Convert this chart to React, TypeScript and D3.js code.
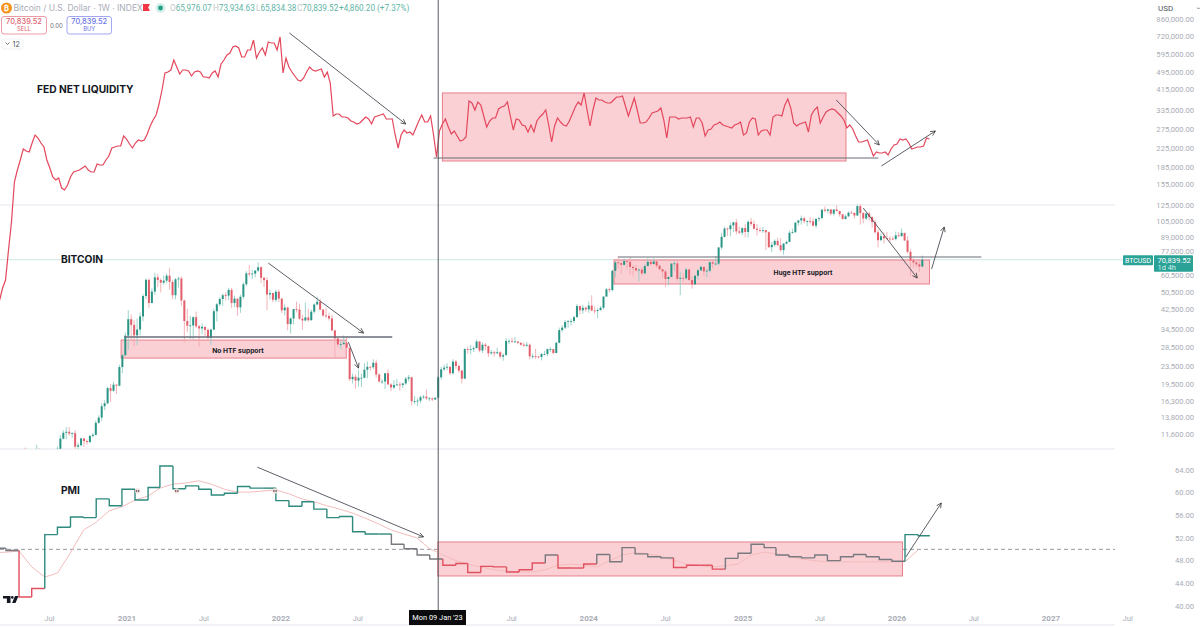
import React, { useEffect, useRef } from "react";
import * as d3 from "d3";

// weekly BTC candles, read against the log price axis (open = previous close)
const firstOpen = 8900;
const lastBar = new Date(2026, 2, 2);
const btcHigh = [
  // 2020 (from May)
  10067, 9950, 9840, 9600, 10380, 10000, 9590, 9780, 9310, 9480, 9350, 10190, 11450, 12050, 12480, 12470, 11800, 12070, 10580, 11180, 11100, 10950, 11500, 11720, 13350, 14100, 15970, 16480, 18950, 19500, 19920, 19400, 23800, 26800, 33300,
  // 2021
  41950, 40100, 37850, 38500, 41000, 49700, 58300, 58300, 52600, 61800, 61200, 58400, 60100, 61300, 64900, 57500, 58500, 59500, 59500, 46700, 42600, 39500, 39400, 41300, 36000, 36600, 35100, 34700, 34600, 42600, 45300, 48000, 49800, 50500, 52900, 52900, 48800, 47300, 49200, 56000, 62900, 67000, 63700, 63500, 69000, 66400, 59400, 59100, 51900, 50200, 51900, 52000,
  // 2022
  47500, 44500, 43500, 38900, 42500, 45800, 44800, 40000, 45400, 42600, 42300, 45000, 48200, 47200, 42400, 42900, 40800, 40000, 34200, 31400, 30500, 32300, 31700, 28000, 21700, 21500, 22500, 21700, 24200, 24600, 23500, 25200, 25100, 21800, 20500, 21800, 22700, 19700, 20300, 20500, 19900, 19700, 21000, 21400, 21000, 17200, 16800, 17300, 17400, 18400, 17000, 16900,
  // 2023
  17000, 21300, 23300, 23800, 24200, 23400, 25200, 25000, 23900, 22600, 28300, 28800, 29200, 28800, 30900, 30400, 30000, 29800, 29000, 27700, 27500, 28400, 27400, 26800, 31400, 31000, 31500, 31800, 30400, 30000, 30000, 30200, 29700, 26800, 28100, 26100, 26900, 27500, 28100, 28600, 28000, 30300, 35000, 35900, 37900, 37900, 38400, 39400, 44700, 44000, 44300, 43600,
  // 2024
  45900, 49000, 43600, 42800, 43900, 48500, 52800, 53000, 64000, 69900, 73800, 68900, 71700, 71300, 72700, 66900, 67200, 64700, 65500, 67700, 71900, 70200, 71900, 70500, 66900, 62800, 63800, 59400, 68400, 70000, 70000, 62700, 61800, 65000, 64500, 59800, 60600, 64100, 66500, 65600, 64500, 69400, 70000, 73600, 80800, 93500, 99800, 98700, 104000, 105000, 108300, 99800, 99000,
  // 2025
  102700, 106400, 109100, 106400, 102500, 98800, 99500, 96500, 95000, 85300, 87400, 88800, 88500, 84000, 86500, 95700, 97800, 104300, 106700, 112000, 110700, 106800, 110400, 108900, 108500, 110500, 119500, 123200, 120200, 119800, 119300, 124500, 117600, 113500, 113300, 116800, 117900, 113400, 125700, 126200, 115900, 114800, 116400, 110500, 107500, 96600, 93000, 94100, 94600, 90400, 90400, 94800,
  // 2026
  94400, 97900, 93000, 90400, 79300, 72000, 70900, 70000, 73934.63,
];
const btcLow = [
  8560, 8200, 8800, 8640, 9250, 9200, 9000, 8850, 8900, 9020, 9020, 9140, 9900, 10960, 11000, 11400, 11150, 9900, 9860, 10200, 10130, 10370, 10530, 11200, 11400, 12900, 13250, 14850, 15800, 16200, 18000, 17600, 19000, 21800, 26000,
  27700, 30400, 28800, 29200, 32300, 37400, 47100, 43000, 44900, 49200, 53300, 50400, 54700, 55400, 52000, 47000, 47000, 53000, 43900, 30000, 33400, 31100, 31000, 34800, 28800, 32700, 32100, 31000, 29300, 34000, 37300, 43700, 43900, 46400, 46500, 42900, 43400, 39600, 40800, 47100, 53900, 59500, 58000, 59000, 62300, 55600, 53300, 42000, 46900, 45500, 45600, 45700,
  40700, 39700, 34000, 32900, 36200, 41000, 38000, 34300, 37400, 37200, 37600, 40500, 44200, 41900, 39200, 38600, 37700, 33700, 25400, 28700, 28000, 29300, 26500, 20100, 19600, 18600, 19000, 18900, 20700, 20700, 22400, 22700, 20800, 19800, 19500, 18500, 19400, 18100, 18500, 19100, 18200, 18700, 19300, 20000, 15600, 15800, 15500, 16000, 16700, 16500, 16300, 16300,
  16500, 17100, 20400, 22300, 22500, 21400, 21500, 22800, 21900, 19600, 20600, 26700, 26500, 27200, 28200, 27100, 26900, 27700, 25800, 26400, 25900, 26600, 25400, 24800, 26300, 29500, 29900, 29900, 29500, 29000, 28700, 28700, 25200, 25300, 25300, 25400, 24900, 26400, 26000, 27200, 26500, 26800, 29700, 33400, 34500, 35000, 35700, 36700, 39000, 40200, 40500, 41300,
  40800, 41500, 40300, 38500, 41800, 42300, 48300, 50600, 50900, 59000, 64500, 60800, 66400, 64500, 60600, 59600, 62400, 56500, 60200, 60700, 66600, 66600, 67600, 65000, 63400, 58500, 53500, 54300, 59000, 63400, 57100, 49000, 56100, 57700, 57200, 52500, 54600, 57500, 62700, 59800, 58900, 62000, 65000, 66800, 66800, 78800, 89400, 90800, 90500, 94300, 92200, 92500, 91500,
  89200, 89300, 100800, 97000, 91200, 94000, 93400, 78200, 80000, 76700, 81100, 81600, 77000, 74500, 83000, 85000, 92800, 93400, 100800, 102000, 103100, 100400, 102700, 100000, 98200, 105200, 107500, 115700, 114700, 112000, 111900, 116800, 110700, 107300, 107300, 110600, 114500, 108600, 111600, 102000, 103500, 106700, 106300, 98900, 93000, 80600, 85800, 83800, 87500, 84400, 86500, 86600,
  89300, 90000, 86000, 75700, 60000, 65100, 65500, 62500, 65834.38,
];
const btcClose = [
  8722, 9680, 8900, 9450, 9660, 9340, 9290, 9000, 9050, 9250, 9170, 9950, 11050, 11750, 11870, 11650, 11700, 10170, 10320, 11080, 10780, 10670, 11370, 11500, 13030, 13760, 15480, 15960, 18680, 18180, 19360, 19170, 23240, 26270, 32200,
  38200, 36000, 32300, 34300, 39300, 48600, 57500, 45200, 50900, 59000, 57400, 55800, 57000, 60000, 56200, 49000, 57800, 58300, 46400, 37500, 35700, 35800, 39000, 35500, 34700, 35300, 34200, 31500, 34300, 41500, 44600, 47100, 49000, 48800, 51800, 45200, 47300, 43200, 48200, 54900, 61500, 60900, 61300, 63300, 65500, 58700, 57300, 49400, 50100, 46700, 50800, 47300,
  41900, 43100, 36300, 38500, 42400, 42200, 38400, 37700, 38900, 37800, 41300, 44500, 45800, 42200, 39700, 39500, 38500, 34000, 31300, 29400, 29500, 29900, 28400, 20500, 21000, 20200, 20800, 20800, 22600, 23300, 23200, 24300, 21500, 20000, 20000, 21800, 19400, 18800, 19300, 19400, 19300, 19600, 20600, 20900, 16300, 16300, 16400, 17000, 17100, 16800, 16800, 16600,
  16900, 20900, 22700, 23100, 23300, 21800, 24600, 23500, 22400, 20600, 28000, 27900, 28000, 28300, 30300, 27600, 29300, 28900, 26800, 27100, 26800, 27100, 25900, 26300, 30500, 30500, 30300, 30300, 29900, 29300, 29000, 29300, 26000, 26000, 25900, 25800, 26600, 26600, 28000, 28000, 26900, 29900, 34100, 35000, 37100, 37400, 37500, 39000, 43800, 41900, 43000, 42300,
  44000, 41800, 41600, 42000, 43000, 48300, 52100, 51700, 63100, 68900, 68400, 67200, 69900, 69300, 65700, 64900, 63400, 63900, 61500, 66300, 69300, 67700, 69600, 66600, 64200, 62700, 58000, 59200, 68000, 68200, 58100, 58700, 58400, 64000, 57300, 54800, 60000, 63500, 65800, 62800, 63200, 69000, 68000, 68000, 80400, 89800, 97900, 97300, 101200, 104400, 95100, 93800, 98400,
  94500, 105000, 102700, 97700, 96500, 96100, 96200, 94200, 80700, 82600, 86100, 82400, 78300, 83700, 85200, 93700, 94300, 104100, 106500, 109000, 105700, 105700, 105500, 100900, 108300, 109200, 119100, 117800, 119400, 114200, 119300, 117500, 113500, 108200, 111100, 115400, 115300, 112100, 123500, 115000, 108600, 114500, 110500, 104700, 94200, 86800, 90400, 88500, 88200, 88100, 87800, 91200,
  90500, 93600, 86500, 76900, 70300, 68800, 67500, 65976.07, 70839.52,
];

// Fed net liquidity overlay, weekly, in its own hidden index units
const liquidityStart = new Date(2020, 2, 5);
const liquidity = [
  60, 180, 260, 560, 840, 1240, 1360, 1460, 1570, 1550, 1540, 1630, 1710, 1680, 1630, 1590, 1460, 1380, 1290, 1260, 1280, 1180, 1160, 1210, 1290, 1340, 1350, 1360, 1380, 1400, 1360, 1340, 1340, 1420, 1410, 1410, 1460, 1500, 1580, 1590,
  1600, 1600, 1700, 1670, 1620, 1580, 1630, 1660, 1650, 1660, 1720, 1800, 1860, 1910, 2020, 2160, 2330, 2340, 2360, 2460, 2390, 2320, 2360, 2360, 2350, 2300, 2340, 2350, 2340, 2290, 2290, 2280, 2330, 2350, 2290, 2420, 2460, 2510, 2530, 2590,
  2600, 2580, 2490, 2490, 2560, 2560, 2660, 2480, 2540, 2580, 2510, 2640, 2630, 2630, 2560, 2690, 2330, 2480, 2390, 2340, 2300, 2260, 2250, 2280, 2340, 2390, 2360, 2350, 2360, 2370, 2290, 2340, 2230, 1900, 1920, 1920, 1890, 1890, 1880, 1850,
  1840, 1820, 1830, 1860, 1890, 1870, 1820, 1890, 1900, 1910, 1920, 1870, 1870, 1870, 1710, 1580, 1710, 1760, 1730, 1740, 1710, 1780, 1850, 1910, 1840, 1840, 1900, 1710, 1490, 1750, 1820, 1870, 1790, 1720, 1750, 1700, 1650, 1660, 1690, 2050,
  2030, 1960, 2040, 2010, 1900, 1790, 1850, 1880, 1880, 1970, 1990, 2000, 2040, 1900, 1760, 1870, 1860, 1810, 1800, 1740, 1810, 1740, 1850, 1890, 1920, 1960, 1810, 1640, 1800, 1880, 1840, 1810, 1800, 1850, 1920, 1990, 2040, 2010, 2130, 1960,
  1800, 1960, 2080, 2060, 2060, 2040, 2030, 2030, 2060, 2090, 2090, 2100, 2000, 1900, 1990, 2080, 1960, 1830, 1830, 1840, 1880, 1930, 1940, 1950, 1980, 1860, 1680, 1890, 1890, 1890, 1870, 1880, 1880, 1880, 1890, 1790, 1880, 1880, 1830, 1700,
  1760, 1770, 1810, 1820, 1840, 1810, 1800, 1790, 1780, 1810, 1820, 1840, 1710, 1730, 1840, 1880, 1870, 1710, 1750, 1760, 1760, 1710, 1890, 1910, 1910, 1900, 2010, 2070, 1980, 1830, 1800, 1820, 1830, 1840, 1740, 1910, 1960, 1990, 1830, 1890,
  1940, 1960, 1970, 1960, 1930, 1900, 1860, 1780, 1810, 1770, 1700, 1640, 1640, 1650, 1660, 1580, 1500, 1540, 1530, 1530, 1540, 1510, 1570, 1610, 1620, 1670, 1660, 1670, 1630, 1570, 1580, 1590, 1590, 1600, 1680, 1670,
];

// monthly PMI prints and the pink moving average, as stepped on the chart
const pmiStart = new Date(2019, 11, 20);
const pmi = [
  47.9, 50.9, 50.2, 49.8, 41.6, 43.1, 52.6, 53.9, 55.7, 55.6, 58.9, 57.7, 60.6, 58.7, 60.9, 64.7, 60.7, 61.2, 60.6, 59.6, 59.9, 61.1, 60.8, 60.8, 58.6,
  57.6, 58.4, 57.1, 55.6, 55.8, 53.1, 52.7, 52.7, 50.9, 50.1, 49, 48.3, 47.2, 47.5, 45.9, 47, 46.9, 46, 46.4, 47.6, 49, 46.7, 46.7, 47.4, 49.1,
  47.8, 50.3, 49.2, 48.7, 48.5, 46.8, 47.2, 47.2, 46.5, 48.4, 49.3, 50.9, 50.3, 49, 48.7, 48.5, 49, 48, 48.7, 49.1, 48.7, 48.2, 47.9, 52.6, 52.4,
];
const pmiAverage = [
  49.4, 49.4, 49.4, 49.5, 49.7, 46.9, 45.1, 45.8, 49.4, 53.4, 54.8, 56.8, 57.5, 58.7, 59.4, 60.8, 61.5, 61.7, 62.1, 61.5, 60.6, 60.1, 60.1, 60.3, 60.5,
  59.8, 58.9, 58.4, 57.7, 57.1, 56.4, 55.5, 54.5, 53.4, 52.7, 52, 50.1, 49, 48, 47.4, 46.9, 46.4, 46.2, 46, 46, 46.4, 47.2, 47.4, 47.2, 46.9,
  48, 49, 49.4, 49.2, 48.8, 48.1, 47.4, 47.1, 46.9, 47.1, 47.4, 49, 49.5, 49.2, 48.8, 48.3, 48, 47.8, 47.8, 47.8, 47.8, 47.8, 47.8, 47.8, 49.9,
];

// axes
const priceTicks = [860000, 720000, 595000, 495000, 415000, 335000, 275000, 225000, 185000, 155000, 125000, 105000, 89000, 77000, 60500, 50500, 42500, 34500, 28500, 23500, 19500, 16300, 13800, 11600];
const pmiTicks = [64, 60, 56, 52, 48, 44, 40];
const monthTicks = [2020.5, 2021.5, 2022.5, 2023.5, 2024.5, 2025.5, 2026.5, 2027.5];
const yearTicks = [2021, 2022, 2024, 2025, 2026, 2027];

// hand drawn bits of the chart, decimal year + axis value
type Zone = { x0: number; x1: number; hi: number; lo: number };
const priceZones: Zone[] = [
  { x0: 2023.052, x1: 2025.671, hi: 400000, lo: 197400 },
  { x0: 2020.967, x1: 2022.427, hi: 30760, lo: 25510 },
  { x0: 2024.166, x1: 2026.212, hi: 70620, lo: 55050 },
];
const pmiZone: Zone = { x0: 2023.02, x1: 2026.036, hi: 51.3, lo: 45.3 };
const priceLevels = [
  { x0: 2022.993, x1: 2025.88, v: 203600, w: 1 },
  { x0: 2020.987, x1: 2022.726, v: 31740, w: 1.5 },
  { x0: 2024.192, x1: 2026.55, v: 72840, w: 1.2 },
];
const priceArrows = [
  [2022.055, 745700, 2022.811, 289800],
  [2025.606, 371900, 2025.886, 233100],
  [2025.899, 187400, 2026.251, 269500],
  [2021.919, 68450, 2022.537, 33080],
  [2022.44, 30120, 2022.505, 23000],
  [2025.782, 121100, 2026.134, 58570],
  [2026.225, 64300, 2026.309, 99500],
];
const pmiArrows = [
  [2021.847, 64.5, 2022.928, 52.2],
  [2026.059, 48.66, 2026.29, 58.18],
];
const pmiMarkers = [2021.07, 2021.326, 2021.964];
const crosshairDate = new Date(2023, 0, 9);
const lastPrice = 70839.52;

const FONT = "Inter, Roboto, sans-serif";
const AXIS_FONT = "Roboto, sans-serif";
const TEAL = "#2a9485";
const RED = "#e25f6c";
const AXIS = "#a9acb6";

const yearDate = (y: number) => new Date(Math.floor(y), 0, 1 + (y % 1) * 365);

export default function App() {
  const ref = useRef<SVGSVGElement>(null);

  useEffect(() => {
    const svg = d3.select(ref.current);
    svg.selectAll("*").remove();

    const x = d3.scaleTime().domain([new Date(2021, 0, 1), new Date(2026, 0, 1)]).range([127, 897]);
    const yPrice = d3.scaleLog().domain([125000, 11600]).range([205, 434]);
    const yLiquidity = d3.scaleLinear().domain([0, 2800]).range([306, 26]);
    const yPmi = d3.scaleLinear().domain([64, 40]).range([470, 606]);

    const defs = svg.append("defs");
    defs.append("clipPath").attr("id", "btc-pane").append("rect").attr("x", 0).attr("y", 190).attr("width", 1115).attr("height", 259);
    defs.append("marker").attr("id", "head").attr("viewBox", "0 0 10 10").attr("refX", 9).attr("refY", 5)
      .attr("markerWidth", 6).attr("markerHeight", 6).attr("markerUnits", "userSpaceOnUse").attr("orient", "auto")
      .append("path").attr("d", "M1 1L9 5L1 9").attr("fill", "none").attr("stroke", "#333").attr("stroke-width", 1.2);

    svg.append("rect").attr("width", 1200).attr("height", 627).attr("fill", "#fff");

    // pane separators and last price line
    const sep = [yPrice(125000), 449, 625];
    svg.selectAll(".sep").data(sep).join("line").attr("x1", 0).attr("x2", 1115).attr("y1", (d) => d).attr("y2", (d) => d)
      .attr("stroke", "#e4e6ec").attr("stroke-width", 1);
    svg.append("line").attr("x1", 0).attr("x2", 1123).attr("y1", yPrice(lastPrice)).attr("y2", yPrice(lastPrice))
      .attr("stroke", "#cfe7e4").attr("stroke-width", 1);
    svg.append("line").attr("x1", 0).attr("x2", 1115).attr("y1", yPmi(50)).attr("y2", yPmi(50))
      .attr("stroke", "#9598a1").attr("stroke-width", 1).attr("stroke-dasharray", "4 3");

    // pink zones sit under the series
    const zone = (z: Zone, y: (v: number) => number) =>
      svg.append("rect").attr("x", x(yearDate(z.x0))).attr("y", y(z.hi))
        .attr("width", x(yearDate(z.x1)) - x(yearDate(z.x0))).attr("height", y(z.lo) - y(z.hi))
        .attr("fill", "#fad0d5").attr("stroke", "#e8808c").attr("stroke-width", 1);
    priceZones.forEach((z) => zone(z, yPrice));
    zone(pmiZone, yPmi);

    // fed liquidity
    const liquidityLine = d3.line<number>()
      .x((_, i) => x(d3.timeWeek.offset(liquidityStart, i)))
      .y((d) => yLiquidity(d));
    svg.append("path").attr("d", liquidityLine(liquidity)).attr("fill", "none").attr("stroke", "#e4475c").attr("stroke-width", 1.2);

    // candles
    const candles = btcClose.map((close, i) => ({
      date: d3.timeWeek.offset(lastBar, i - (btcClose.length - 1)),
      open: i === 0 ? firstOpen : btcClose[i - 1],
      high: btcHigh[i],
      low: btcLow[i],
      close,
    }));
    const bars = svg.append("g").attr("clip-path", "url(#btc-pane)");
    bars.selectAll(".wick").data(candles).join("line")
      .attr("x1", (d) => x(d.date)).attr("x2", (d) => x(d.date))
      .attr("y1", (d) => yPrice(d.high)).attr("y2", (d) => yPrice(d.low))
      .attr("stroke", (d) => (d.close >= d.open ? "#8fcfc6" : "#f2aab0")).attr("stroke-width", 0.9);
    bars.selectAll(".body").data(candles).join("rect")
      .attr("x", (d) => x(d.date) - 1).attr("width", 2)
      .attr("y", (d) => yPrice(Math.max(d.open, d.close)))
      .attr("height", (d) => Math.max(0.8, Math.abs(yPrice(d.open) - yPrice(d.close))))
      .attr("fill", (d) => (d.close >= d.open ? TEAL : RED));

    // PMI average then the stepped PMI, coloured by level
    const pmiDate = (i: number) => d3.timeMonth.offset(pmiStart, i);
    const avgLine = d3.line<number>().x((_, i) => x(pmiDate(i))).y((d) => yPmi(d));
    svg.append("path").attr("d", avgLine(pmiAverage)).attr("fill", "none").attr("stroke", "#f4bcbc").attr("stroke-width", 1);

    const pmiColor = d3.scaleThreshold<number, string>().domain([47.8, 51.5]).range(["#e0505f", "#77797f", "#2f8a7e"]);
    const stepLine = d3.line<[Date, number]>().curve(d3.curveStepAfter).x((d) => x(d[0])).y((d) => yPmi(d[1]));
    pmi.slice(1).forEach((v, i) => {
      svg.append("path")
        .attr("d", stepLine([[pmiDate(i + 1), pmi[i]], [pmiDate(i + 1), v], [pmiDate(i + 2), v]]))
        .attr("fill", "none").attr("stroke", pmiColor(v)).attr("stroke-width", 1.4);
    });

    const markers = svg.selectAll(".mark").data(pmiMarkers).join("g")
      .attr("transform", (d) => `translate(${x(yearDate(d))},${yPmi(60.3)})`);
    markers.append("circle").attr("r", 2.6).attr("fill", "#f6dede");
    markers.append("circle").attr("cx", -1.1).attr("r", 0.8).attr("fill", "#333");
    markers.append("circle").attr("cx", 1.1).attr("r", 0.8).attr("fill", "#333");

    // levels, arrows, crosshair
    priceLevels.forEach((l) => {
      svg.append("line").attr("x1", x(yearDate(l.x0))).attr("x2", x(yearDate(l.x1))).attr("y1", yPrice(l.v)).attr("y2", yPrice(l.v))
        .attr("stroke", "#6a6d78").attr("stroke-width", l.w);
    });
    const arrow = (a: number[], y: (v: number) => number) =>
      svg.append("line").attr("x1", x(yearDate(a[0]))).attr("y1", y(a[1])).attr("x2", x(yearDate(a[2]))).attr("y2", y(a[3]))
        .attr("stroke", "#4a4d57").attr("stroke-width", 0.9).attr("marker-end", "url(#head)");
    priceArrows.forEach((a) => arrow(a, yPrice));
    pmiArrows.forEach((a) => arrow(a, yPmi));

    svg.append("line").attr("x1", x(crosshairDate)).attr("x2", x(crosshairDate)).attr("y1", 0).attr("y2", 610)
      .attr("stroke", "#55585f").attr("stroke-width", 1);

    // right axis
    const label = (g: any, tx: number, ty: number, s: string, size: number, fill: string, weight = 400, anchor = "start", font = FONT) =>
      g.append("text").attr("x", tx).attr("y", ty).attr("dy", "0.35em").attr("font-family", font).attr("font-size", size)
        .attr("font-weight", weight).attr("fill", fill).attr("text-anchor", anchor).text(s);
    const price2 = d3.format(",.2f");
    priceTicks.forEach((t) => label(svg, 1194, yPrice(t), price2(t), 7.6, AXIS, 400, "end", AXIS_FONT));
    pmiTicks.forEach((t) => label(svg, 1194, yPmi(t), d3.format(".2f")(t), 7.6, AXIS, 400, "end", AXIS_FONT));

    // bottom axis
    monthTicks.forEach((t) => label(svg, x(yearDate(t)), 618, "Jul", 7.6, AXIS, 400, "middle", AXIS_FONT));
    yearTicks.forEach((t) => label(svg, x(yearDate(t)), 618, String(t), 8, AXIS, 700, "middle", AXIS_FONT));
    svg.append("rect").attr("x", 409).attr("y", 610).attr("width", 57).attr("height", 15).attr("fill", "#0c0c0e");
    label(svg, (409 + 466) / 2, 617.5, "Mon 09 Jan '23", 7.4, "#fff", 400, "middle", AXIS_FONT);

    // price tags
    const tagY = yPrice(lastPrice);
    svg.append("rect").attr("x", 1123).attr("y", tagY - 4.5).attr("width", 30).attr("height", 10).attr("rx", 1).attr("fill", "#2aa296");
    label(svg, 1138, tagY + 0.5, "BTCUSD", 7, "#fff", 400, "middle", AXIS_FONT);
    svg.append("rect").attr("x", 1154).attr("y", tagY - 4.5).attr("width", 39).attr("height", 16.5).attr("rx", 1).attr("fill", "#2aa296");
    label(svg, 1157.5, tagY + 0.5, price2(lastPrice), 7.6, "#fff", 400, "start", AXIS_FONT);
    label(svg, 1157.5, tagY + 7.5, "1d 4h", 7.4, "#d7f0ed", 400, "start", AXIS_FONT);

    // hand written titles
    label(svg, 37, 89.5, "FED NET LIQUIDITY", 10.2, "#131722", 700);
    label(svg, 61, 259, "BITCOIN", 10.2, "#131722", 700);
    label(svg, 61, 490, "PMI", 10.2, "#131722", 700);
    label(svg, 238, 351, "No HTF support", 6.7, "#131722", 700, "middle");
    label(svg, 803, 272.5, "Huge HTF support", 6.6, "#131722", 700, "middle");

    // header
    svg.append("circle").attr("cx", 6.5).attr("cy", 8).attr("r", 5.5).attr("fill", "#f7931a");
    label(svg, 6.5, 8, "₿", 7.5, "#fff", 700, "middle");
    label(svg, 13.5, 8, "Bitcoin / U.S. Dollar · 1W · INDEX", 8.5, AXIS);
    svg.append("path").attr("d", "M143 4h7l-1.8 3.5l1.8 3.5h-7z").attr("fill", "#f23645");
    svg.append("circle").attr("cx", 160.5).attr("cy", 8).attr("r", 5).attr("fill", "#d6efe9");
    svg.append("circle").attr("cx", 160.5).attr("cy", 8).attr("r", 2.4).attr("fill", "#1f9e89");
    ([["O", "65,976.07", 170], ["H", "73,934.63", 213], ["L", "65,834.38", 256], ["C", "70,839.52", 297]] as [string, string, number][]).forEach(([k, v, px]) => {
      const t = svg.append("text").attr("x", px).attr("y", 8).attr("dy", "0.35em").attr("font-family", AXIS_FONT).attr("font-size", 8.2).attr("fill", "#5fb5a6");
      t.append("tspan").attr("fill", "#c3c6ce").text(k);
      t.append("tspan").text(v);
    });
    label(svg, 339, 8, "+4,860.20 (+7.37%)", 8.2, "#5fb5a6", 400, "start", AXIS_FONT);

    const orderBox = (bx: number, bw: number, color: string, side: string) => {
      svg.append("rect").attr("x", bx).attr("y", 16.5).attr("width", bw).attr("height", 17.5).attr("rx", 2.5)
        .attr("fill", "#fff").attr("stroke", color).attr("stroke-width", 0.9).attr("stroke-opacity", 0.7);
      label(svg, bx + bw / 2, 21.5, "70,839.52", 7.4, color, 500, "middle");
      label(svg, bx + bw / 2, 29, side, 5.8, color, 400, "middle");
    };
    orderBox(1.5, 45, "#e2606e", "SELL");
    orderBox(67, 44.5, "#6a72e8", "BUY");
    label(svg, 56.5, 25.5, "0.00", 6, "#6a6d78", 400, "middle");

    svg.append("rect").attr("x", 2).attr("y", 39).attr("width", 21).attr("height", 10).attr("rx", 2).attr("fill", "#fff").attr("stroke", "#eceef2").attr("stroke-width", 0.8);
    svg.append("path").attr("d", "M5.5 42.5l2 2l2 -2").attr("fill", "none").attr("stroke", "#555").attr("stroke-width", 0.8);
    label(svg, 12.5, 44, "12", 7.2, "#50535e");

    svg.append("rect").attr("x", 1156).attr("y", 1).attr("width", 44).attr("height", 14).attr("fill", "#fff");
    label(svg, 1158, 8, "USD", 8, "#50535e", 400, "start", AXIS_FONT);
    svg.append("path").attr("d", "M1197 7.5l1.5 1.5l1.5 -1.5").attr("fill", "none").attr("stroke", "#50535e").attr("stroke-width", 0.7);

    // chart library logo
    svg.append("path").attr("d", "M3 596h7.5v7h-3.6v-4.6H3zM18.5 596l-3 7h-3.4l2.9 -7z").attr("fill", "#131722");
    svg.append("circle").attr("cx", 12.3).attr("cy", 597.4).attr("r", 1.3).attr("fill", "#131722");
  }, []);

  return <svg ref={ref} width={1200} height={627} style={{ position: "absolute", left: 0, top: 0 }} />;
}
